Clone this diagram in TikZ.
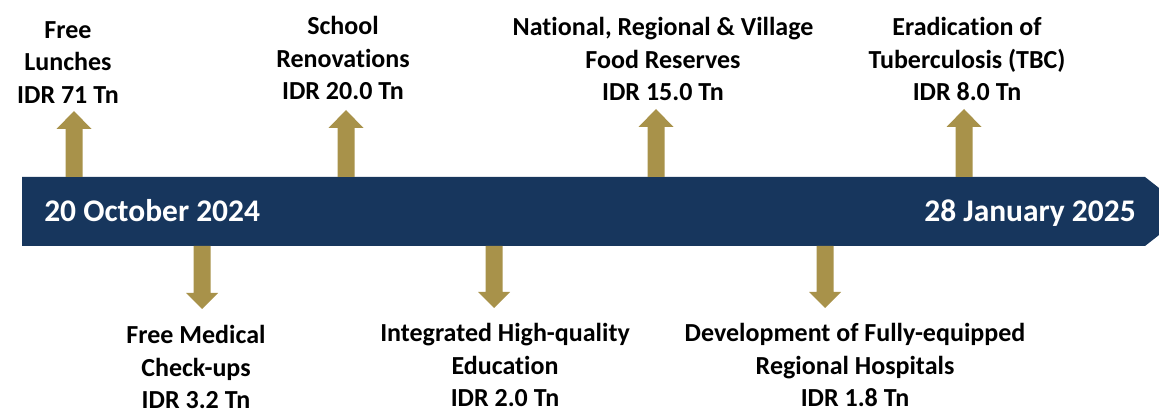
\documentclass[tikz,border=0pt]{standalone}
\usepackage{fontspec}
\setmainfont{Carlito}[Ligatures=NoCommon]
\definecolor{navy}{HTML}{17365D}
\definecolor{gold}{HTML}{A8924A}
\tikzset{
  lbl/.style={anchor=north, inner sep=0pt, align=center, text=black,
    font=\bfseries\fontsize{19.5}{24.5}\selectfont},
  datelbl/.style={inner sep=0pt, text=white, font=\bfseries\fontsize{23.6}{28}\selectfont},
  blockarrow/.style={fill=gold, draw=none},
}
\newcommand\uparrowat[2]{% x, head-top y
  \fill[gold] (#1-8.5,177) -- (#1-8.5,#2+18) -- (#1-17.5,#2+18) -- (#1,#2)
    -- (#1+17.5,#2+18) -- (#1+8.5,#2+18) -- (#1+8.5,177) -- cycle;}
\newcommand\downarrowat[2]{% x, tip y
  \fill[gold] (#1-8.5,246) -- (#1-8.5,#2-16) -- (#1-16,#2-16) -- (#1,#2)
    -- (#1+16,#2-16) -- (#1+8.5,#2-16) -- (#1+8.5,246) -- cycle;}
\begin{document}
\begin{tikzpicture}[x=0.75pt,y=-0.75pt]
\useasboundingbox (0,0) rectangle (1159,409);
% timeline bar
\begin{scope}
\clip (0,0) rectangle (1159,409);
\fill[navy] (22,177) -- (1145,177) -- (1189,211.5) -- (1145,246) -- (22,246) -- cycle;
\end{scope}
\node[datelbl, anchor=base west] (start) at (44,222) {20 October 2024};
\node[datelbl, anchor=base east] (end) at (1136,222) {28 January 2025};
% arrows
\uparrowat{74}{111}
\uparrowat{346}{110}
\uparrowat{656}{109}
\uparrowat{964}{109}
\downarrowat{202}{309}
\downarrowat{494}{308}
\downarrowat{825}{308}
% labels above
\node[lbl] (l1) at (68,21) {Free\\Lunches\\IDR 71 Tn};
\node[lbl] (l2) at (343,16) {School\\Renovations\\IDR 20.0 Tn};
\node[lbl] (l3) at (663,17) {National, Regional \& Village\\Food Reserves\\IDR 15.0 Tn};
\node[lbl] (l4) at (967,17) {Eradication of\\Tuberculosis (TBC)\\IDR 8.0 Tn};
% labels below
\node[lbl] (l5) at (196,325) {Free Medical\\Check-ups\\IDR 3.2 Tn};
\node[lbl] (l6) at (505,323) {Integrated High-quality\\Education\\IDR 2.0 Tn};
\node[lbl] (l7) at (855,323) {Development of Fully-equipped\\Regional Hospitals\\IDR 1.8 Tn};
\end{tikzpicture}
\end{document}
